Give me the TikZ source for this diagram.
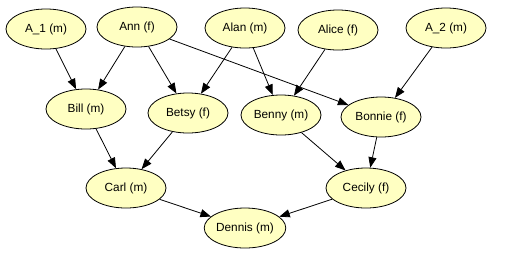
\documentclass[tikz,border=0pt]{standalone}
\usepackage{fontspec}
\setmainfont{Liberation Sans}
\usetikzlibrary{arrows.meta,shapes.geometric}
\definecolor{nodefill}{RGB}{255,255,194}
\begin{document}
\begin{tikzpicture}[x=1pt,y=-1pt,
  person/.style={ellipse,draw=black,line width=0.8pt,fill=nodefill,minimum width=80pt,minimum height=40pt,inner sep=0pt,font=\fontsize{11.8}{13}\selectfont},
  link/.style={-{Triangle[length=10.5pt,width=8pt]},line width=0.8pt,draw=black}]
\useasboundingbox (0,0) rectangle (510,263);
\node[person] (a1) at (46,29) {A\_1 (m)};
\node[person] (ann) at (137,27) {Ann (f)};
\node[person] (alan) at (245,28) {Alan (m)};
\node[person] (alice) at (338,30) {Alice (f)};
\node[person] (a2) at (446,28) {A\_2 (m)};
\node[person] (bill) at (86,109) {Bill (m)};
\node[person] (betsy) at (188,113) {Betsy (f)};
\node[person] (benny) at (281,115) {Benny (m)};
\node[person] (bonnie) at (381,117) {Bonnie (f)};
\node[person] (carl) at (126,188) {Carl (m)};
\node[person] (cecily) at (366,188) {Cecily (f)};
\node[person] (dennis) at (245,228) {Dennis (m)};
\draw[link] (a1) -- (bill);
\draw[link] (ann) -- (bill);
\draw[link] (ann) -- (betsy);
\draw[link] (ann) -- (bonnie);
\draw[link] (alan) -- (betsy);
\draw[link] (alan) -- (benny);
\draw[link] (alice) -- (benny);
\draw[link] (a2) -- (bonnie);
\draw[link] (bill) -- (carl);
\draw[link] (betsy) -- (carl);
\draw[link] (benny) -- (cecily);
\draw[link] (bonnie) -- (cecily);
\draw[link] (carl) -- (dennis);
\draw[link] (cecily) -- (dennis);
\end{tikzpicture}
\end{document}
